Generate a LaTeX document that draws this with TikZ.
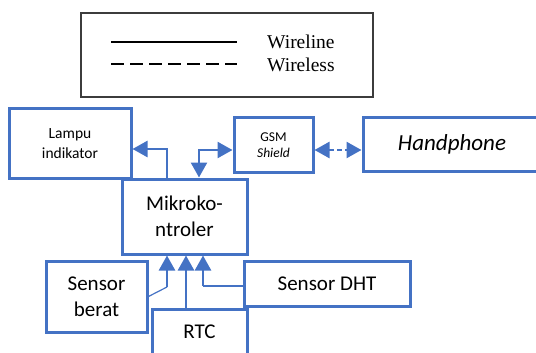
\documentclass[tikz,border=0pt]{standalone}
\usepackage{fontspec}
\setmainfont{Liberation Serif}
\setsansfont{Carlito}
\usetikzlibrary{arrows.meta}
\definecolor{boxblue}{RGB}{68,114,196}
\definecolor{legendgray}{RGB}{60,60,60}
\begin{document}
\begin{tikzpicture}[x=1pt,y=-1pt,
		blok/.style={draw=boxblue,line width=3pt,inner sep=0pt,align=center},
		arr/.style={draw=boxblue,line width=2.5pt,-{Triangle[length=15pt,width=16pt]}},
		arrboth/.style={draw=boxblue,line width=2.5pt,{Triangle[length=15pt,width=16pt]}-{Triangle[length=15pt,width=16pt]}}]
		\useasboundingbox (0,0) rectangle (536,353);
		\clip (0,0) rectangle (536,353);
		% legenda
		\node[draw=legendgray,line width=1.5pt,minimum width=292pt,minimum height=84pt] (legenda) at (227,55) {};
		\draw[line width=2.5pt] (111,42) -- (237,42);
		\draw[line width=2.5pt,dash pattern=on 13pt off 6pt] (111,64) -- (237,64);
		\node[anchor=west,inner sep=0pt,font=\fontsize{19.5}{22}\selectfont] (wireline) at (267,42) {Wireline};
		\node[anchor=west,inner sep=0pt,font=\fontsize{19.5}{22}\selectfont] (wireless) at (267,65) {Wireless};
		% blok
		\node[blok,minimum width=122pt,minimum height=69pt,font=\sffamily\fontsize{15.5}{19.5}\selectfont] (lampu) at (70,143.5) {Lampu\\indikator};
		\node[blok,minimum width=125pt,minimum height=75pt,font=\sffamily\fontsize{21}{26}\selectfont] (mikro) at (184.5,216.5) {Mikroko-\\ntroler};
		\node[blok,minimum width=79pt,minimum height=54pt,font=\sffamily\fontsize{13.5}{15.5}\selectfont] (gsm) at (273.5,145) {GSM\\\textit{Shield}};
		\node[blok,minimum width=178pt,minimum height=53pt,font=\sffamily\itshape\fontsize{23}{27}\selectfont] (hp) at (452,144.5) {Handphone};
		\node[blok,minimum width=101pt,minimum height=71pt,font=\sffamily\fontsize{21}{26}\selectfont] (berat) at (96.5,296.5) {Sensor\\berat};
		\node[blok,minimum width=166pt,minimum height=45pt,font=\sffamily\fontsize{21}{26}\selectfont] (dht) at (327,283.5) {Sensor DHT};
		\node[blok,minimum width=95pt,minimum height=46pt,font=\sffamily\fontsize{21}{26}\selectfont] (rtc) at (199.5,332) {RTC};
		% panah
		\coordinate (pL) at (167,149);
		\coordinate (pG) at (199,150);
		\coordinate (pB) at (167,287);
		\coordinate (pD) at (203,286);
		\draw[arr] (mikro.north -| pL) |- (lampu.east |- pL);
		\draw[arrboth] (mikro.north -| pG) |- (gsm.west |- pG);
		\draw[arrboth,dash pattern=on 5pt off 3pt] (gsm.east |- pG) -- (hp.west |- pG);
		\draw[boxblue,line width=1.2pt] (berat.east) -- (pB);
		\draw[arr] (pB) -- (mikro.south -| pB);
		\draw[arr] ([xshift=-13.5pt]rtc.north) -- ([xshift=1.5pt]mikro.south);
		\draw[boxblue,line width=1.2pt] (dht.west |- pD) -- (pD);
		\draw[arr] (pD) -- (mikro.south -| pD);
	\end{tikzpicture}
\end{document}
